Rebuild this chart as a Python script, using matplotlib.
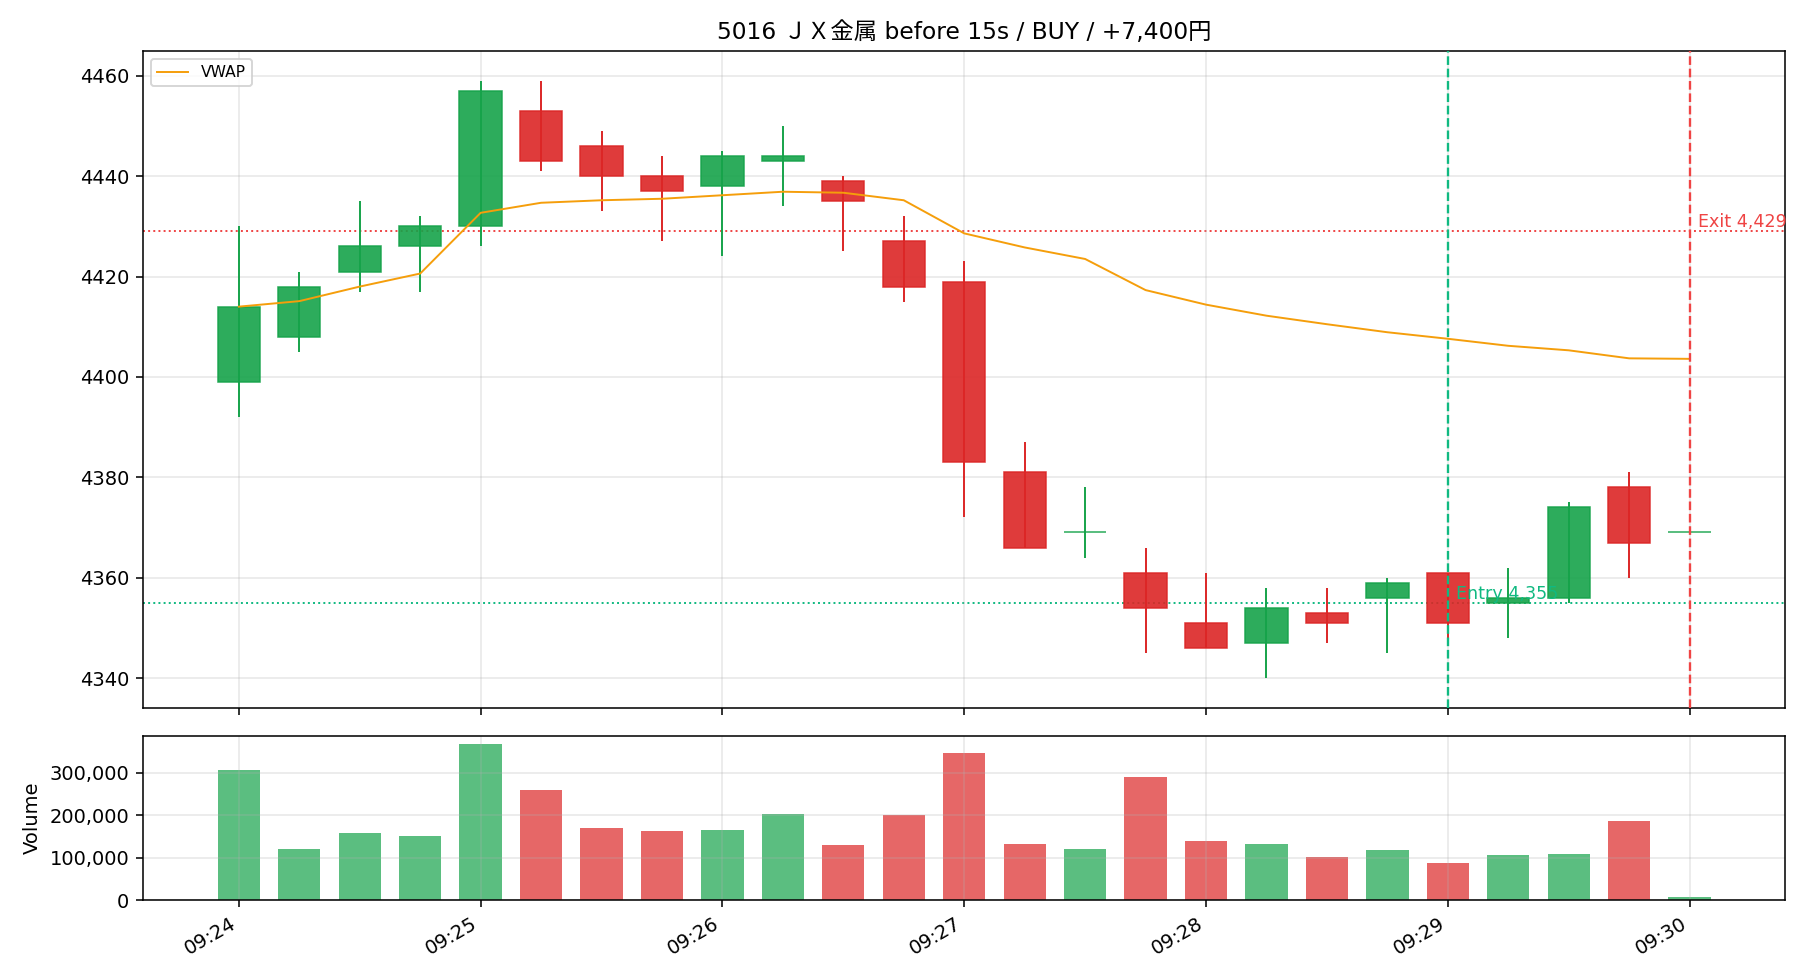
import pandas as pd
import matplotlib.pyplot as plt
import matplotlib.dates as mdates
from matplotlib.ticker import FuncFormatter
from datetime import timedelta

# 15s candles, 5016, 09:24 - 09:30
times = ['09:24:00', '09:24:15', '09:24:30', '09:24:45',
         '09:25:00', '09:25:15', '09:25:30', '09:25:45',
         '09:26:00', '09:26:15', '09:26:30', '09:26:45',
         '09:27:00', '09:27:15', '09:27:30', '09:27:45',
         '09:28:00', '09:28:15', '09:28:30', '09:28:45',
         '09:29:00', '09:29:15', '09:29:30', '09:29:45',
         '09:30:00']
opens = [4399, 4408, 4421, 4426, 4430, 4453, 4446, 4440, 4438, 4443, 4439, 4427, 4419,
         4381, 4369, 4361, 4351, 4347, 4353, 4356, 4361, 4355, 4356, 4378, 4369]
highs = [4430, 4421, 4435, 4432, 4459, 4459, 4449, 4444, 4445, 4450, 4440, 4432, 4423,
         4387, 4378, 4366, 4361, 4358, 4358, 4360, 4361, 4362, 4375, 4381, 4370]
lows = [4392, 4405, 4417, 4417, 4426, 4441, 4433, 4427, 4424, 4434, 4425, 4415, 4372,
        4366, 4364, 4345, 4346, 4340, 4347, 4345, 4348, 4348, 4355, 4360, 4369]
closes = [4414, 4418, 4426, 4430, 4457, 4443, 4440, 4437, 4444, 4444, 4435, 4418, 4383,
          4366, 4369, 4354, 4346, 4354, 4351, 4359, 4351, 4356, 4374, 4367, 4369]
volumes = [306000, 120000, 157000, 150000, 368000, 259000, 169000, 162000, 165000,
           202000, 129000, 200000, 346000, 131000, 120000, 290000, 138000, 131000,
           101000, 117000, 87000, 105000, 108000, 186000, 6000]
vwap = [4414.0, 4415.1, 4418.0, 4420.6, 4432.7, 4434.7, 4435.2, 4435.5, 4436.2,
        4436.9, 4436.7, 4435.2, 4428.6, 4425.8, 4423.5, 4417.3, 4414.4, 4412.2,
        4410.5, 4408.9, 4407.6, 4406.2, 4405.3, 4403.7, 4403.6]

entry_time, entry_price = '09:29:00', 4355
exit_time, exit_price = '09:30:00', 4429
title = '5016 ＪＸ金属 before 15s / BUY / +7,400円'

UP = '#16a34a'
DOWN = '#dc2626'

df = pd.DataFrame({'open': opens, 'high': highs, 'low': lows,
                   'close': closes, 'volume': volumes, 'vwap': vwap},
                  index=pd.to_datetime(['2025-06-02 ' + t for t in times]))
x = mdates.date2num(df.index.to_pydatetime())
w = 15 * 0.7 / 86400  # bar width in days
colors = [UP if c >= o else DOWN for o, c in zip(df['open'], df['close'])]

fig, (ax, axv) = plt.subplots(2, 1, figsize=(13, 7), dpi=140, sharex=True,
                              gridspec_kw={'height_ratios': [4, 1]})
fig.subplots_adjust(left=0.0786, right=0.981, top=0.948, bottom=0.0816, hspace=0.068)

# candles
body_lo = [min(o, c) for o, c in zip(df['open'], df['close'])]
body_h = [abs(c - o) for o, c in zip(df['open'], df['close'])]
ax.bar(x, body_h, bottom=body_lo, width=w, color=colors, alpha=0.9,
       edgecolor=colors, linewidth=0.8, zorder=2)
ax.vlines(x, df['low'], df['high'], colors=colors, linewidth=1.0, zorder=3)

ax.plot(x, df['vwap'], color='#f59e0b', linewidth=1.0, label='VWAP', zorder=4)

# entry / exit
t_in = mdates.date2num(pd.Timestamp('2025-06-02 ' + entry_time))
t_out = mdates.date2num(pd.Timestamp('2025-06-02 ' + exit_time))
ax.axvline(t_in, color='#10b981', linestyle='--', linewidth=1.2, zorder=5)
ax.axvline(t_out, color='#ef4444', linestyle='--', linewidth=1.2, zorder=5)
ax.axhline(entry_price, color='#10b981', linestyle=':', linewidth=1.0, zorder=1)
ax.axhline(exit_price, color='#ef4444', linestyle=':', linewidth=1.0, zorder=1)
off = 2 / 86400
ax.text(t_in + off, entry_price, 'Entry {:,}'.format(entry_price), color='#10b981',
        fontsize=9, va='bottom', ha='left', zorder=6)
ax.text(t_out + off, exit_price, 'Exit {:,}'.format(exit_price), color='#ef4444',
        fontsize=9, va='bottom', ha='left', zorder=6)

ax.set_title(title, fontsize=12, family=['DejaVu Sans', 'Noto Sans CJK JP'])
ax.legend(loc='upper left', fontsize=8)
ax.grid(True, alpha=0.3)

# volume
axv.bar(x, df['volume'], width=w, color=colors, alpha=0.7)
axv.set_ylabel('Volume')
axv.yaxis.set_major_formatter(FuncFormatter(lambda v, p: '{:,.0f}'.format(v)))
axv.grid(True, alpha=0.3)

axv.xaxis.set_major_locator(mdates.MinuteLocator())
axv.xaxis.set_major_formatter(mdates.DateFormatter('%H:%M'))
for lbl in axv.get_xticklabels():
    lbl.set_rotation(30)
    lbl.set_ha('right')
ax.tick_params(labelbottom=False)

plt.savefig('out.png', dpi=140)
